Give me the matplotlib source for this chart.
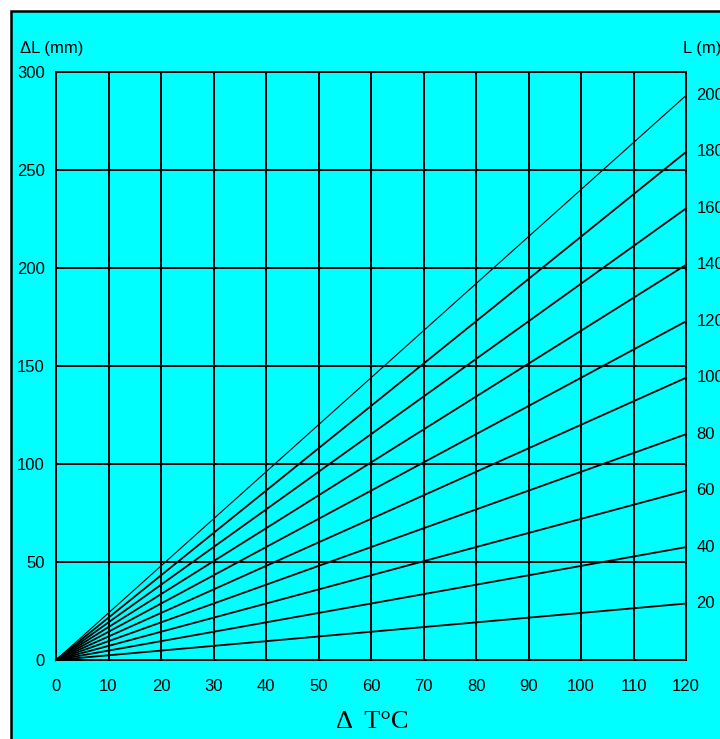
import matplotlib
matplotlib.use("Agg")
import matplotlib.pyplot as plt
from matplotlib.patches import Rectangle

# Data
delta_t_end = 120
lengths = [20, 40, 60, 80, 100, 120, 140, 160, 180, 200]          # L (m)
dl_at_end = [28.8, 57.6, 86.4, 115.2, 144.0, 172.8, 201.6, 230.4, 259.2, 288.0]  # ΔL (mm) at ΔT=120
x_ticks = [0, 10, 20, 30, 40, 50, 60, 70, 80, 90, 100, 110, 120]
y_ticks = [0, 50, 100, 150, 200, 250, 300]

W, H = 720, 739
fig = plt.figure(figsize=(W/100, H/100), dpi=100)
fig.patch.set_facecolor("white")

# cyan panel with black left/top border
bg = Rectangle((11/W, -0.1), 1.2, (H-11)/H + 0.1, transform=fig.transFigure,
               facecolor="#00FFFF", edgecolor="black", linewidth=1.8, zorder=-10)
fig.patches.append(bg)

ax = fig.add_axes([56/W, 1-660/H, 630/W, 588/H])
ax.set_zorder(1)
ax.set_facecolor("#00FFFF")
ax.set_xlim(0, 120)
ax.set_ylim(0, 300)
ax.set_xticks(x_ticks)
ax.set_yticks(y_ticks)
ax.grid(True, color="black", linewidth=1.4)
ax.set_axisbelow(True)
for s in ax.spines.values():
    s.set_linewidth(1.4)
    s.set_color("black")
ax.tick_params(length=0, labelsize=12, pad=14, labelfontfamily="Liberation Sans")
ax.tick_params(axis="y", pad=8)

for L, v in zip(lengths, dl_at_end):
    lw = 0.8 if L == 200 else 1.3
    ax.plot([0, delta_t_end], [0, v], color="black", linewidth=lw, clip_on=False, zorder=3)
    ax.annotate(str(L), xy=(delta_t_end, v), xytext=(7.5, 0), textcoords="offset points",
                va="center", ha="left", fontsize=12, family="Liberation Sans",
                annotation_clip=False)

fig.text(20/W, 1-48/H, "ΔL (mm)", fontsize=12, family="Liberation Sans", va="center", ha="left")
fig.text(683/W, 1-48/H, "L (m)", fontsize=12, family="Liberation Sans", va="center", ha="left")
fig.text(372/W, 1-722/H, "Δ  T°C", fontsize=19, family="Liberation Serif", va="center", ha="center")

fig.savefig("out.png", dpi=100, facecolor=fig.get_facecolor())
